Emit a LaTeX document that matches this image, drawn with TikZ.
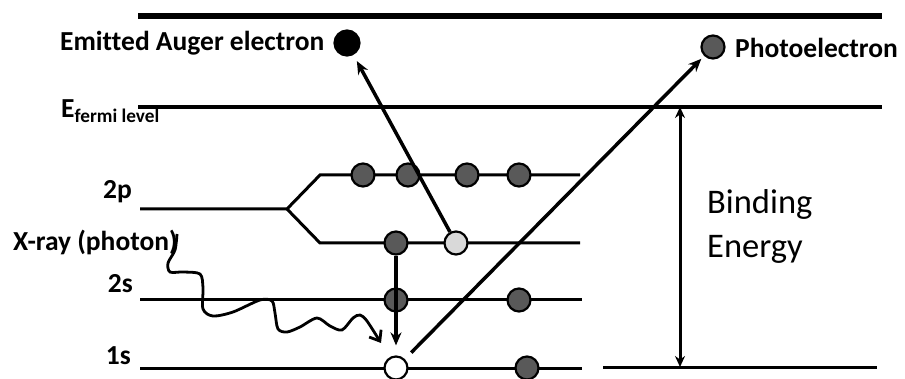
\documentclass[tikz,border=0pt]{standalone}
\usepackage{fontspec}
\setmainfont[Ligatures=NoCommon]{Carlito}
\usetikzlibrary{arrows.meta}
\definecolor{dgray}{HTML}{595959}
\definecolor{lgray}{HTML}{D9D9D9}
\begin{document}
\begin{tikzpicture}[x=1pt,y=-1pt,
  levelline/.style={line width=3pt},
  dot/.style={circle,draw=black,line width=2.2pt,minimum size=23pt,inner sep=0pt,fill=dgray},
  lbl/.style={font=\bfseries\fontsize{27.5}{30}\selectfont,inner sep=0pt},
  arr/.style={line width=3.5pt,-{Stealth[length=13pt,width=11pt]}},
  darr/.style={line width=3pt,{Stealth[length=11pt,width=10pt]}-{Stealth[length=11pt,width=10pt]}}
]
\useasboundingbox (0,0) rectangle (905,379);
% energy levels
\draw[line width=5.5pt] (138,16) -- (882,16);
\draw[line width=3.5pt] (138,107) -- (882,107);
\draw[levelline] (140,209) -- (287,209) -- (320,175) -- (580,175);
\draw[levelline] (287,209) -- (320,243) -- (580,243);
\draw[levelline] (140,300) -- (582,300);
\draw[levelline] (140,368) -- (582,368);
\draw[levelline] (603,367) -- (877,367);
% labels
\node[lbl,anchor=west] (auglbl) at (60,43) {Emitted Auger electron};
\node[lbl,anchor=west] (photolbl) at (735,48) {Photoelectron};
\node[lbl,anchor=base west] (fermi) at (61,118) {E\textsubscript{fermi level}};
\node[lbl,anchor=east] (l2p) at (132,192) {2p};
\node[lbl,anchor=west] (xray) at (13,242) {X-ray (photon)};
\node[lbl,anchor=east] (l2s) at (133,284) {2s};
\node[lbl,anchor=east] (l1s) at (131,356) {1s};
\node[anchor=west,align=left,inner sep=0pt,font=\fontsize{34.5}{44}\selectfont] (be) at (707,226) {Binding\\Energy};
% electrons
\node[dot,fill=black,minimum size=25pt] (auger) at (347,43) {};
\node[dot] (photo) at (713,47) {};
\node[dot] (p1) at (363,175) {};
\node[dot] (p2) at (408,175) {};
\node[dot] (p3) at (467,175) {};
\node[dot] (p4) at (519,175) {};
\node[dot] (p5) at (396,243) {};
\node[dot,fill=lgray] (hole2p) at (456,243) {};
\node[dot] (s1) at (396,300) {};
\node[dot] (s2) at (519,300) {};
\node[dot,fill=white] (hole1s) at (396,368) {};
\node[dot] (k2) at (527,368) {};
% arrows
\draw[arr,shorten >=7pt] (hole2p) -- (auger);
\draw[arr,shorten >=10pt] (p5) -- (hole1s);
\draw[arr,shorten <=9pt,shorten >=4pt] (hole1s) -- (photo);
\draw[darr] (680,107) -- (680,367);
% x-ray photon
\draw[line width=2.8pt,-{Straight Barb[length=9pt,width=14pt]}] plot[smooth,tension=0.5] coordinates
  {(177,234) (175,250) (168,263) (170,272) (183,272) (200,274) (203,288) (203,309) (213,316) (233,312) (260,300) (272,301) (275,313) (278,329) (287,332) (300,327) (317,318) (330,326) (342,330) (353,318) (360,315) (367,321) (381,343)};
\end{tikzpicture}
\end{document}
